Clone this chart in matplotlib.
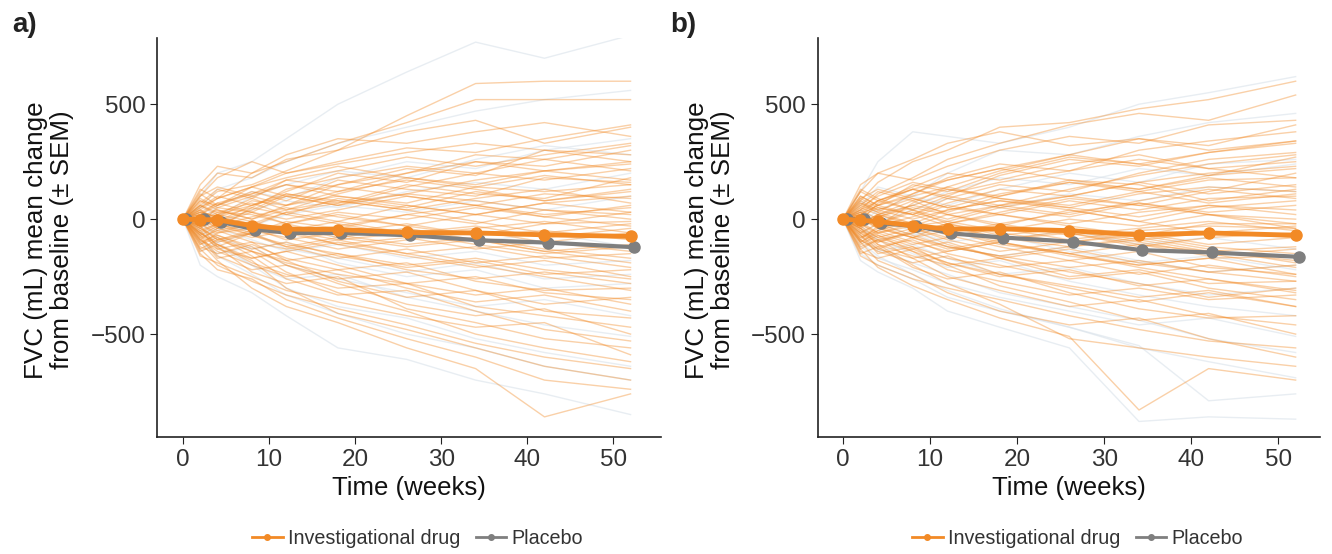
import matplotlib
matplotlib.use("Agg")
import matplotlib.pyplot as plt
from matplotlib.lines import Line2D

plt.rcParams['font.family'] = ['Liberation Sans', 'DejaVu Sans']

weeks = [0, 2, 4, 8, 12, 18, 26, 34, 42, 52]

# mean change from baseline
drug_mean_a = [0, -2, -3, -28, -43, -45, -58, -60, -68, -75]
placebo_mean_a = [0, 0, -12, -45, -60, -60, -70, -92, -102, -122]
drug_mean_b = [0, -5, -10, -28, -43, -42, -50, -68, -60, -70]
placebo_mean_b = [0, 0, -18, -30, -62, -80, -98, -135, -145, -164]

# individual patients (estimated)
drug_pts_a = [
    [0, 60, 120, 150, 210, 300, 450, 590, 600, 600],
    [0, 40, 90, 200, 250, 330, 420, 520, 520, 520],
    [0, 120, 200, 180, 260, 300, 380, 430, 330, 400],
    [0, 80, 60, 140, 200, 250, 310, 290, 350, 410],
    [0, -20, 50, 100, 150, 120, 200, 280, 260, 320],
    [0, 30, 10, 80, 60, 150, 220, 190, 300, 280],
    [0, 50, 100, 60, 120, 200, 160, 250, 230, 300],
    [0, -40, 20, 90, 40, 110, 180, 150, 210, 250],
    [0, 90, 50, 30, 100, 60, 140, 200, 170, 220],
    [0, 20, 60, 120, 80, 170, 130, 100, 180, 160],
    [0, -30, -10, 40, 110, 70, 150, 110, 90, 180],
    [0, 10, 40, 0, 60, 100, 70, 140, 120, 150],
    [0, 60, 30, 70, 20, 90, 50, 120, 80, 130],
    [0, -60, -20, 30, 0, 40, 100, 60, 110, 90],
    [0, 40, 0, -30, 30, -10, 60, 20, 70, 100],
    [0, -10, 30, 20, -20, 30, 0, 50, 10, 60],
    [0, 20, -30, 10, 50, 10, -30, 20, -20, 30],
    [0, -50, -20, -60, -10, -40, 20, -20, 40, 0],
    [0, 30, 10, -20, -50, -10, -60, -30, -80, -40],
    [0, -20, -60, -40, -90, -60, -20, -70, -50, -90],
    [0, 10, -40, -80, -50, -110, -80, -130, -100, -140],
    [0, -80, -50, -100, -130, -90, -150, -120, -170, -150],
    [0, -30, -90, -60, -120, -170, -130, -190, -160, -210],
    [0, -100, -70, -130, -100, -160, -210, -180, -240, -220],
    [0, -40, -80, -140, -180, -150, -220, -260, -230, -280],
    [0, -120, -150, -110, -170, -220, -190, -270, -310, -300],
    [0, -60, -110, -170, -140, -200, -280, -250, -320, -350],
    [0, -20, -70, -120, -200, -260, -230, -310, -370, -340],
    [0, -90, -140, -200, -250, -220, -300, -360, -330, -400],
    [0, -50, -130, -100, -180, -270, -340, -310, -400, -430],
    [0, -140, -110, -190, -240, -300, -280, -380, -420, -470],
    [0, -70, -160, -220, -200, -280, -370, -420, -390, -500],
    [0, -110, -80, -160, -260, -330, -310, -400, -480, -530],
    [0, -30, -120, -230, -280, -250, -390, -450, -520, -560],
    [0, -160, -190, -250, -310, -360, -420, -470, -450, -590],
    [0, -80, -170, -140, -230, -320, -400, -500, -560, -620],
    [0, -130, -200, -270, -330, -390, -460, -540, -600, -650],
    [0, -60, -110, -180, -300, -410, -480, -560, -640, -700],
    [0, -150, -220, -260, -350, -430, -520, -600, -700, -740],
    [0, -100, -180, -300, -380, -450, -560, -650, -860, -760],
    [0, 150, 230, 200, 280, 350, 330, 380, 420, 360],
    [0, 100, 180, 250, 200, 240, 290, 330, 300, 250],
    [0, -90, -40, 50, 130, 180, 230, 200, 260, 210],
    [0, 70, 130, 90, 170, 140, 100, 60, 20, 50],
    [0, -70, -120, -60, -30, -80, -120, -90, -140, -110],
    [0, 40, -10, 60, 110, 80, 40, 90, 130, 70],
    [0, -10, -50, -20, 30, 70, 110, 80, 40, 20],
    [0, 60, 20, -10, -60, -30, 20, 60, 10, -30],
    [0, -40, -90, -50, -80, -130, -90, -50, -100, -60],
    [0, 20, 70, 30, -20, -70, -110, -80, -130, -170],
    [0, -70, -30, -70, -120, -80, -40, -90, -140, -190],
    [0, 100, 140, 100, 60, 120, 170, 130, 80, 120],
    [0, -110, -60, -20, -60, -110, -160, -210, -180, -250],
    [0, 50, 90, 140, 180, 230, 180, 140, 190, 150],
    [0, -30, 10, 50, 20, -20, -70, -40, -10, -60],
    [0, 10, -20, -70, -110, -150, -200, -170, -220, -260],
    [0, 130, 90, 140, 100, 60, 110, 170, 210, 240],
    [0, -90, -130, -170, -140, -100, -150, -200, -250, -310],
    [0, 30, 70, 110, 150, 100, 60, 20, 70, 30],
    [0, -60, -100, -60, -20, 20, -30, -70, -20, -10],
    [0, 80, 40, 0, 40, 80, 40, -10, -60, -20],
    [0, -20, 20, 60, 100, 150, 200, 250, 210, 170],
    [0, -130, -90, -140, -190, -240, -280, -330, -300, -370],
    [0, 0, -40, -10, -50, -90, -60, -110, -150, -120],
    [0, 110, 60, 110, 170, 210, 270, 230, 280, 330],
]

placebo_pts_a = [
    [0, 100, 200, 250, 350, 500, 640, 770, 700, 800],
    [0, 50, 130, 180, 250, 330, 400, 470, 520, 560],
    [0, -30, 60, 120, 90, 180, 250, 220, 300, 350],
    [0, 20, -20, 40, 80, 50, 120, 160, 130, 200],
    [0, -40, 10, -30, 20, 60, 30, 80, 40, 100],
    [0, 30, -10, -60, -30, -80, -40, -100, -60, -120],
    [0, -70, -40, -90, -140, -110, -170, -140, -200, -180],
    [0, -20, -80, -130, -100, -190, -250, -220, -300, -280],
    [0, -100, -150, -120, -200, -260, -320, -380, -350, -420],
    [0, -60, -120, -200, -260, -240, -340, -400, -460, -510],
    [0, -140, -100, -200, -300, -380, -430, -520, -580, -640],
    [0, -200, -250, -320, -420, -560, -610, -700, -760, -850],
    [0, -90, -160, -240, -330, -410, -500, -560, -640, -700],
    [0, 60, 10, 100, 150, 210, 180, 260, 320, 280],
    [0, -50, -100, -60, -130, -170, -230, -190, -260, -240],
]

drug_pts_b = [
    [0, 80, 160, 250, 300, 400, 420, 480, 520, 600],
    [0, 40, 110, 180, 260, 330, 410, 460, 430, 540],
    [0, 120, 200, 170, 230, 300, 360, 330, 410, 430],
    [0, 60, 30, 110, 180, 240, 210, 300, 340, 380],
    [0, -10, 70, 130, 100, 190, 260, 230, 290, 330],
    [0, 90, 50, 20, 90, 150, 120, 200, 260, 290],
    [0, 30, 80, 140, 200, 170, 240, 280, 220, 250],
    [0, -40, 10, 60, 30, 100, 160, 130, 190, 220],
    [0, 50, 20, 80, 130, 90, 60, 120, 170, 180],
    [0, 10, 50, 20, 70, 130, 100, 160, 110, 150],
    [0, -30, 20, -20, 40, 80, 50, 110, 140, 120],
    [0, 70, 40, 90, 50, 20, 80, 40, 90, 100],
    [0, -60, -20, 30, -10, 50, 10, 70, 30, 60],
    [0, 20, -30, 10, 60, 20, -20, 30, 60, 40],
    [0, -20, 20, -30, -10, -50, 0, -30, 20, 0],
    [0, 40, 0, -40, -80, -40, -90, -50, -30, -40],
    [0, -50, -90, -60, -20, -70, -40, -90, -60, -80],
    [0, 10, -40, -80, -50, -110, -150, -110, -140, -120],
    [0, -80, -50, -100, -140, -100, -160, -200, -170, -160],
    [0, -30, -80, -130, -100, -170, -130, -190, -230, -200],
    [0, -110, -70, -120, -170, -210, -180, -240, -200, -250],
    [0, -50, -110, -160, -200, -170, -250, -220, -280, -270],
    [0, -140, -170, -130, -190, -250, -220, -290, -260, -310],
    [0, -20, -70, -140, -220, -270, -330, -300, -350, -330],
    [0, -90, -140, -190, -160, -240, -300, -360, -320, -380],
    [0, -60, -120, -210, -260, -230, -320, -390, -430, -420],
    [0, -120, -90, -170, -250, -310, -380, -350, -420, -460],
    [0, -70, -150, -120, -200, -290, -360, -440, -410, -500],
    [0, -160, -200, -260, -300, -350, -420, -480, -530, -560],
    [0, -100, -180, -240, -320, -400, -460, -430, -520, -600],
    [0, -40, -110, -200, -280, -370, -520, -560, -600, -640],
    [0, -130, -210, -290, -350, -430, -510, -830, -650, -700],
    [0, 150, 200, 260, 330, 380, 320, 350, 300, 340],
    [0, 100, 60, 150, 120, 200, 270, 240, 190, 270],
    [0, -90, -30, 70, 140, 210, 280, 350, 320, 410],
    [0, 60, 120, 80, 20, -30, 40, -10, 50, 80],
    [0, -70, -130, -80, -20, -60, -100, -70, -120, -150],
    [0, 30, -20, -70, -120, -160, -120, -80, -130, -190],
    [0, -150, -120, -90, -150, -200, -260, -230, -300, -350],
    [0, 20, 80, 40, -20, 30, 90, 60, 120, 200],
    [0, -10, -60, -110, -80, -30, -60, -120, -80, -60],
    [0, 130, 90, 40, 0, 60, 130, 190, 240, 280],
    [0, -100, -60, -20, -70, -120, -180, -140, -210, -240],
    [0, 50, 100, 160, 130, 100, 170, 150, 80, 130],
    [0, -40, -100, -50, -110, -170, -230, -280, -340, -300],
    [0, 30, -20, 40, 100, 60, 20, 80, 130, 90],
    [0, -20, -60, -30, 20, 60, 100, 60, 20, -20],
    [0, 70, 30, -20, -60, -20, 30, 70, 20, -40],
    [0, -40, -80, -40, -90, -140, -100, -60, -110, -80],
    [0, 20, 60, 20, -30, -80, -120, -90, -140, -180],
    [0, -80, -40, -80, -130, -90, -50, -100, -150, -210],
    [0, 90, 130, 90, 50, 110, 160, 120, 70, 110],
    [0, -100, -50, -10, -50, -100, -150, -200, -170, -240],
    [0, 40, 80, 130, 170, 220, 170, 130, 180, 140],
    [0, -30, 10, 50, 20, -20, -70, -40, -10, -50],
    [0, 0, -30, -80, -120, -160, -210, -180, -230, -270],
    [0, 120, 80, 130, 90, 50, 100, 160, 200, 230],
    [0, -90, -130, -170, -140, -100, -150, -210, -260, -320],
    [0, 20, 60, 100, 140, 90, 50, 10, 60, 20],
    [0, -60, -100, -60, -20, 20, -30, -70, -20, -20],
    [0, 80, 40, 0, 40, 80, 40, -10, -60, -30],
    [0, -20, 20, 60, 110, 160, 210, 260, 220, 180],
    [0, -130, -90, -140, -190, -240, -290, -340, -310, -380],
    [0, 0, -40, -10, -50, -90, -60, -110, -160, -130],
    [0, 100, 60, 110, 170, 220, 280, 240, 290, 340],
]

placebo_pts_b = [
    [0, 120, 250, 380, 360, 330, 400, 500, 550, 620],
    [0, 60, 140, 100, 200, 300, 280, 360, 420, 460],
    [0, -20, 40, 100, 60, 130, 200, 160, 240, 260],
    [0, 30, -10, 40, 90, 50, 110, 80, 140, 120],
    [0, -60, -20, -70, -30, -90, -50, -110, -80, -130],
    [0, 40, 0, -50, -100, -70, -140, -190, -160, -220],
    [0, -90, -140, -110, -170, -240, -210, -280, -330, -300],
    [0, -30, -90, -150, -210, -180, -270, -330, -380, -420],
    [0, -120, -170, -220, -280, -340, -400, -460, -430, -510],
    [0, -70, -130, -190, -240, -320, -380, -440, -520, -580],
    [0, -150, -200, -260, -340, -400, -470, -560, -620, -690],
    [0, -180, -230, -300, -400, -470, -560, -880, -860, -870],
    [0, -100, -160, -240, -310, -390, -470, -550, -790, -760],
    [0, 80, 20, 60, 120, 180, 150, 220, 190, 240],
    [0, -40, -90, -60, -120, -160, -120, -180, -230, -200],
]

xticks = [0, 10, 20, 30, 40, 50]
yticks = [-500, 0, 500]
ytick_labels = ['\u2212500', '0', '500']

orange = '#F28A26'
grey = '#7F7F7F'
light = '#D9E2EA'

fig = plt.figure(figsize=(13.32, 5.54), dpi=100)
ax_a = fig.add_axes([0.118, 0.211, 0.378, 0.720])
ax_b = fig.add_axes([0.614, 0.211, 0.377, 0.720])

panels = [
    (ax_a, drug_mean_a, placebo_mean_a, drug_pts_a, placebo_pts_a, (-3.0, 55.5)),
    (ax_b, drug_mean_b, placebo_mean_b, drug_pts_b, placebo_pts_b, (-2.9, 54.8)),
]

for ax, dm, pm, dpts, ppts, xl in panels:
    for p in ppts:
        ax.plot(weeks, p, color=light, lw=1.0, alpha=0.6, zorder=1)
    for p in dpts:
        ax.plot(weeks, p, color=orange, lw=1.0, alpha=0.4, zorder=2)
    pw = [w + 0.4 for w in weeks]
    ax.plot(pw, pm, color=grey, lw=3, marker='o', ms=8, zorder=3)
    ax.plot(weeks, dm, color=orange, lw=3.5, marker='o', ms=8, zorder=4)

    ax.set_xlim(*xl)
    ax.set_ylim(-948, 787)
    ax.set_xticks(xticks)
    ax.set_yticks(yticks)
    ax.set_yticklabels(ytick_labels)
    for s in ['top', 'right']:
        ax.spines[s].set_visible(False)
    for s in ['left', 'bottom']:
        ax.spines[s].set_color('#222222')
        ax.spines[s].set_linewidth(1.2)
    ax.tick_params(labelsize=17.5, length=5, colors='#222222', labelcolor='#333333')
    ax.set_xlabel('Time (weeks)', fontsize=18.5, color='#111111', labelpad=4)
    ax.set_ylabel('FVC (mL) mean change\nfrom baseline (\u00b1 SEM)', fontsize=18.7,
                  color='#111111', linespacing=1.1)
    ax.yaxis.set_label_coords(-0.165, 0.494)

    handles = [
        Line2D([], [], color=orange, lw=2, marker='o', ms=4),
        Line2D([], [], color=grey, lw=2, marker='o', ms=4),
    ]
    ax.legend(handles, ['Investigational drug', 'Placebo'], loc='center',
              bbox_to_anchor=(0.517, -0.253), ncol=2, frameon=False, fontsize=14.2,
              handlelength=1.55, handletextpad=0.26, columnspacing=0.8,
              labelcolor='#333333')

fig.text(0.009, 0.955, 'a)', fontsize=20, fontweight='bold', va='center', color='#222222')
fig.text(0.503, 0.955, 'b)', fontsize=20, fontweight='bold', va='center', color='#222222')

fig.savefig('out.png', dpi=100)
